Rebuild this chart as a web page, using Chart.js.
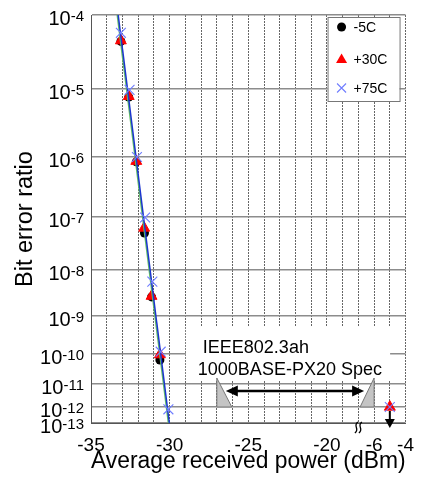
<!DOCTYPE html>
<html>
<head>
<meta charset="utf-8">
<title>Bit error ratio vs average received power</title>
<script src="https://cdn.jsdelivr.net/npm/chart.js@4.4.1/dist/chart.umd.min.js"></script>
<style>
  html, body { margin: 0; padding: 0; background: #fff; }
</style>
</head>
<body>
<canvas id="ber-chart" width="425" height="483"></canvas>
<script>
// BER measurement, three case temperatures
const seriesNames = ['-5C', '+30C', '+75C'];

const powerM5 = [-33.1, -32.6, -32.12, -31.6, -31.15, -30.62];
const berM5 = [4.4e-5, 7.6e-6, 8.3e-7, 5.0e-8, 2.6e-9, 6.3e-11];

const powerP30 = [-33.1, -32.6, -32.12, -31.62, -31.15, -30.62, -5];
const berP30 = [4.5e-5, 7.8e-6, 8.5e-7, 6.2e-8, 2.7e-9, 9.5e-11, 1e-12];

const powerP75 = [-33.1, -32.55, -32.08, -31.56, -31.1, -30.57, -30.08, -5];
const berP75 = [5.75e-5, 9.7e-6, 1.0e-6, 9.8e-8, 5.6e-9, 1.15e-10, 7.2e-13, 1e-12];

// fitted lines, end points only
const fitBer = [1e-4, 1e-13];
const fitGreenPower = [-33.33, -30.08];
const fitBluePower = [-33.27, -30.02];

// axes
const xGridValues = [-35, -34, -33, -32, -31, -30, -29, -28, -27, -26, -25, -24, -23, -22, -21, -20, -19, -7, -6, -5, -4];
const xTickLabels = [-35, -30, -25, -20, -6, -4];
const yTickExps = [-4, -5, -6, -7, -8, -9, -10, -11, -12, -13];

// spec window and error free point
const specMin = -27;
const specMax = -6;
const specText = ['IEEE802.3ah', '1000BASE-PX20 Spec'];
const errorFreePower = -5;
const errorFreeBer = 1e-12;

const FONT = "'Liberation Sans', Arial, sans-serif";

// piecewise axis shapes (the x axis has a break, the y axis is a BER paper scale)
const axisShapes = {
    x: { log: false, knots: [[-35, 0], [-19, 0.8], [-7, 0.85], [-4, 1]], ticks: xGridValues },
    y: {
        log: true,
        knots: [[-13, 0], [-12, 0.0392], [-11, 0.0956], [-10, 0.1691], [-9, 0.2623],
                [-8, 0.375], [-7, 0.5049], [-6, 0.652], [-5, 0.8186], [-4, 1]],
        ticks: yTickExps.map(e => Math.pow(10, e))
    }
};

function interp(knots, v) {
    let i = 0;
    while (i < knots.length - 2 && v > knots[i + 1][0]) i++;
    const a = knots[i], b = knots[i + 1];
    return a[1] + (v - a[0]) / (b[0] - a[0]) * (b[1] - a[1]);
}

class BrokenAxis extends Chart.LinearScale {
    static id = 'broken';

    shape() {
        return axisShapes[this.id];
    }

    buildTicks() {
        this.start = this.min;
        this.end = this.max;
        return this.shape().ticks.map(v => ({ value: v }));
    }

    getPixelForValue(value) {
        if (value === null || value === undefined || !isFinite(value)) return NaN;
        const s = this.shape();
        const v = s.log ? Math.log10(value) : value;
        return this.getPixelForDecimal(interp(s.knots, v));
    }

    getValueForPixel(pixel) {
        const s = this.shape();
        const inv = s.knots.map(k => [k[1], k[0]]);
        const v = interp(inv, this.getDecimalForPixel(pixel));
        return s.log ? Math.pow(10, v) : v;
    }
}
Chart.register(BrokenAxis);

function toPoints(xs, ys) {
    return xs.map((x, i) => ({ x: x, y: ys[i] }));
}

function drawMarker(ctx, style, color, x, y) {
    ctx.save();
    ctx.fillStyle = color;
    ctx.strokeStyle = color;
    ctx.beginPath();
    if (style === 'circle') {
        ctx.arc(x, y, 4.5, 0, Math.PI * 2);
        ctx.fill();
    } else if (style === 'triangle') {
        ctx.moveTo(x, y - 5.5);
        ctx.lineTo(x + 5.5, y + 4);
        ctx.lineTo(x - 5.5, y + 4);
        ctx.closePath();
        ctx.fill();
    } else {
        ctx.lineWidth = 1.1;
        ctx.moveTo(x - 4.5, y - 4.5);
        ctx.lineTo(x + 4.5, y + 4.5);
        ctx.moveTo(x + 4.5, y - 4.5);
        ctx.lineTo(x - 4.5, y + 4.5);
        ctx.stroke();
    }
    ctx.restore();
}

const legendColors = ['#000000', '#ff0000', '#6f7dff'];
const legendStyles = ['circle', 'triangle', 'crossRot'];

// y tick labels with superscript, spec annotation, legend, axis break
const decorPlugin = {
    id: 'decor',
    afterDraw(chart) {
        const ctx = chart.ctx;
        const xs = chart.scales.x;
        const ys = chart.scales.y;
        const area = chart.chartArea;

        ctx.save();
        ctx.fillStyle = '#000';
        ctx.textBaseline = 'alphabetic';
        ctx.textAlign = 'left';
        yTickExps.forEach(e => {
            const py = ys.getPixelForValue(Math.pow(10, e));
            const sup = String(e);
            ctx.font = '15px ' + FONT;
            const ws = ctx.measureText(sup).width;
            ctx.font = '20px ' + FONT;
            const wb = ctx.measureText('10').width;
            const right = area.left - 7;
            ctx.fillText('10', right - ws - wb, py + 10);
            ctx.font = '15px ' + FONT;
            ctx.fillText(sup, right - ws, py + 6);
        });
        ctx.restore();

        // spec window
        const xl = xs.getPixelForValue(specMin);
        const xr = xs.getPixelForValue(specMax);
        const yTop = ys.getPixelForValue(Math.pow(10, -10.8));
        const yBot = ys.getPixelForValue(1e-12);
        const yArrow = ys.getPixelForValue(Math.pow(10, -11.3));

        ctx.save();
        ctx.fillStyle = '#fff';
        ctx.fillRect(xl - 31, yTop - 51, xr - xl + 47, 53);

        ctx.fillStyle = '#c4c4c4';
        ctx.strokeStyle = '#777';
        ctx.lineWidth = 1;
        ctx.beginPath();
        ctx.moveTo(xl, yTop);
        ctx.lineTo(xl, yBot);
        ctx.lineTo(xl + 15, yBot);
        ctx.closePath();
        ctx.fill();
        ctx.stroke();
        ctx.beginPath();
        ctx.moveTo(xr, yTop);
        ctx.lineTo(xr, yBot);
        ctx.lineTo(xr - 14, yBot);
        ctx.closePath();
        ctx.fill();
        ctx.stroke();

        const a0 = xl + 9, a1 = xr - 10;
        ctx.strokeStyle = '#000';
        ctx.fillStyle = '#000';
        ctx.lineWidth = 2.5;
        ctx.beginPath();
        ctx.moveTo(a0 + 8, yArrow);
        ctx.lineTo(a1 - 8, yArrow);
        ctx.stroke();
        ctx.beginPath();
        ctx.moveTo(a0, yArrow);
        ctx.lineTo(a0 + 12, yArrow - 5.5);
        ctx.lineTo(a0 + 12, yArrow + 5.5);
        ctx.closePath();
        ctx.fill();
        ctx.beginPath();
        ctx.moveTo(a1, yArrow);
        ctx.lineTo(a1 - 12, yArrow - 5.5);
        ctx.lineTo(a1 - 12, yArrow + 5.5);
        ctx.closePath();
        ctx.fill();

        ctx.font = '18px ' + FONT;
        ctx.textBaseline = 'alphabetic';
        ctx.fillText(specText[0], xl - 14, yTop - 25);
        ctx.fillText(specText[1], xl - 19, yTop - 3);

        // error free marker (no errors below 1e-12)
        const xe = xs.getPixelForValue(errorFreePower);
        const ye = ys.getPixelForValue(errorFreeBer);
        ctx.lineWidth = 2;
        ctx.beginPath();
        ctx.moveTo(xe, ye + 4);
        ctx.lineTo(xe, ye + 14);
        ctx.stroke();
        ctx.beginPath();
        ctx.moveTo(xe - 5, ye + 12);
        ctx.lineTo(xe + 5, ye + 12);
        ctx.lineTo(xe, ye + 21);
        ctx.closePath();
        ctx.fill();

        // axis break symbol
        const xb = xs.getPixelForValue(-7);
        ctx.lineWidth = 1.3;
        [-2, 2].forEach(dx => {
            ctx.beginPath();
            ctx.moveTo(xb + dx + 1.5, area.bottom - 1);
            ctx.bezierCurveTo(xb + dx - 4, area.bottom + 3, xb + dx + 4, area.bottom + 6, xb + dx - 1.5, area.bottom + 10);
            ctx.stroke();
        });
        ctx.restore();

        // legend
        const bx = area.right - 78, by = area.top + 2, bw = 72, bh = 84;
        ctx.save();
        ctx.fillStyle = '#fff';
        ctx.fillRect(bx, by, bw, bh);
        ctx.strokeStyle = '#777';
        ctx.lineWidth = 1;
        ctx.strokeRect(bx + 0.5, by + 0.5, bw, bh);
        const rows = [10, 42, 71];
        ctx.font = '14px ' + FONT;
        ctx.textBaseline = 'middle';
        seriesNames.forEach((name, i) => {
            drawMarker(ctx, legendStyles[i], legendColors[i], bx + 14, by + rows[i]);
            ctx.fillStyle = '#000';
            ctx.fillText(name, bx + 26, by + rows[i] + 1);
        });
        ctx.restore();
    }
};

const berChart = new Chart(document.getElementById('ber-chart'), {
    type: 'scatter',
    data: {
        datasets: [
            {
                label: seriesNames[2],
                data: toPoints(powerP75, berP75),
                pointStyle: 'crossRot',
                pointRadius: 7,
                borderWidth: 1.1,
                borderColor: legendColors[2],
                backgroundColor: legendColors[2],
                order: 1
            },
            {
                label: 'fit blue',
                data: toPoints(fitBluePower, fitBer),
                showLine: true,
                pointRadius: 0,
                borderColor: '#1c35d0',
                borderWidth: 1.5,
                order: 2
            },
            {
                label: 'fit green',
                data: toPoints(fitGreenPower, fitBer),
                showLine: true,
                pointRadius: 0,
                borderColor: '#62c062',
                borderWidth: 1.5,
                order: 3
            },
            {
                label: seriesNames[1],
                data: toPoints(powerP30, berP30),
                pointStyle: 'triangle',
                pointRadius: 6.3,
                borderWidth: 1,
                borderColor: legendColors[1],
                backgroundColor: legendColors[1],
                order: 4
            },
            {
                label: seriesNames[0],
                data: toPoints(powerM5, berM5),
                pointStyle: 'circle',
                pointRadius: 4.5,
                borderWidth: 0,
                borderColor: legendColors[0],
                backgroundColor: legendColors[0],
                order: 5
            }
        ]
    },
    options: {
        responsive: false,
        animation: false,
        devicePixelRatio: 1,
        events: [],
        layout: { padding: { left: 0, right: 10, top: 15, bottom: 0 } },
        plugins: {
            legend: { display: false },
            tooltip: { enabled: false }
        },
        scales: {
            x: {
                type: 'broken',
                min: -35,
                max: -4,
                afterFit: scale => { scale.height = 60; },
                grid: { color: '#666', lineWidth: 1, drawTicks: false },
                border: { display: true, color: '#555', width: 1, dash: [2, 1] },
                ticks: {
                    autoSkip: false,
                    maxRotation: 0,
                    padding: 11,
                    color: '#000',
                    font: { family: FONT, size: 19 },
                    callback: value => xTickLabels.includes(value) ? String(value) : ''
                },
                title: {
                    display: true,
                    text: 'Average received power (dBm)',
                    color: '#000',
                    font: { family: FONT, size: 23.5 },
                    padding: { top: 0, bottom: 7 }
                }
            },
            y: {
                type: 'broken',
                min: 1e-13,
                max: 1e-4,
                afterFit: scale => { scale.width = 91; },
                grid: { color: '#8c8c8c', lineWidth: 1.5, drawTicks: false },
                border: { display: true, color: '#555', width: 1 },
                ticks: { display: false, callback: () => '' },
                title: {
                    display: true,
                    text: 'Bit error ratio',
                    color: '#000',
                    font: { family: FONT, size: 23.5 },
                    padding: { top: 11, bottom: 0 }
                }
            }
        }
    },
    plugins: [decorPlugin]
});
</script>
</body>
</html>
